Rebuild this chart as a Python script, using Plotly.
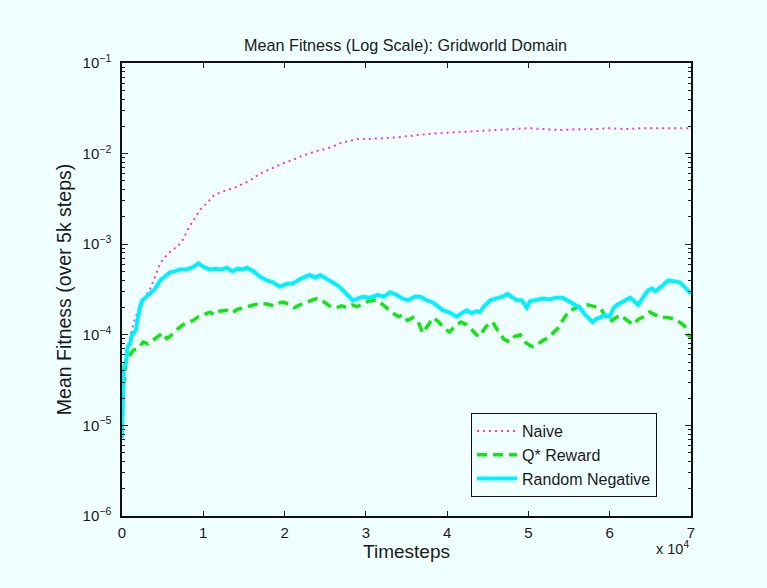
import plotly.graph_objects as go
import numpy as np

# ---------------- data (x in units of 10^4 timesteps, y as log10 of mean fitness) -------------
naive_x = [0.00, 0.03, 0.08, 0.15, 0.22, 0.28, 0.34, 0.40, 0.47, 0.55, 0.62, 0.68, 0.75, 0.82, 0.90,
           0.96, 1.04, 1.12, 1.20, 1.30, 1.40, 1.50, 1.60, 1.70, 1.80, 1.90, 2.00, 2.10, 2.20, 2.30,
           2.40, 2.50, 2.60, 2.70, 2.80, 2.90, 3.00, 3.20, 3.40, 3.60, 3.80, 4.00, 4.20, 4.40, 4.60,
           4.80, 5.00, 5.20, 5.40, 5.60, 5.80, 6.00, 6.20, 6.40, 6.60, 6.80, 7.00]
naive_log10 = [-5.10, -4.40, -4.10, -3.85, -3.68, -3.58, -3.51, -3.38, -3.21, -3.12, -3.06, -3.03, -2.95,
               -2.82, -2.70, -2.62, -2.55, -2.47, -2.43, -2.40, -2.37, -2.33, -2.28, -2.22, -2.18, -2.14,
               -2.10, -2.07, -2.03, -2.00, -1.97, -1.95, -1.92, -1.88, -1.86, -1.84, -1.84, -1.83, -1.82,
               -1.80, -1.78, -1.77, -1.76, -1.75, -1.74, -1.73, -1.72, -1.73, -1.74, -1.73, -1.73, -1.72,
               -1.73, -1.72, -1.72, -1.72, -1.72]

qstar_x = [0.00, 0.03, 0.05, 0.10, 0.14, 0.20, 0.26, 0.32, 0.38, 0.44, 0.50, 0.55, 0.59, 0.65, 0.70,
           0.75, 0.82, 0.88, 0.94, 1.00, 1.08, 1.14, 1.20, 1.29, 1.35, 1.42, 1.49, 1.56, 1.63, 1.70,
           1.78, 1.86, 1.93, 1.98, 2.05, 2.12, 2.19, 2.26, 2.33, 2.40, 2.46, 2.52, 2.58, 2.64, 2.70,
           2.77, 2.83, 2.89, 2.96, 3.03, 3.10, 3.14, 3.20, 3.27, 3.33, 3.40, 3.46, 3.51, 3.58, 3.64,
           3.70, 3.76, 3.83, 3.90, 3.96, 4.03, 4.10, 4.17, 4.24, 4.30, 4.36, 4.40, 4.46, 4.52, 4.56,
           4.62, 4.70, 4.77, 4.83, 4.90, 4.96, 5.02, 5.06, 5.12, 5.18, 5.23, 5.30, 5.35, 5.39, 5.45,
           5.51, 5.58, 5.65, 5.72, 5.80, 5.88, 5.94, 6.00, 6.06, 6.13, 6.20, 6.29, 6.35, 6.42, 6.49,
           6.56, 6.63, 6.70, 6.78, 6.86, 6.92, 6.96, 7.00]
qstar_log10 = [-4.75, -4.40, -4.28, -4.22, -4.17, -4.15, -4.08, -4.10, -4.06, -4.02, -3.98, -4.04, -4.02,
               -3.96, -3.92, -3.89, -3.86, -3.84, -3.80, -3.78, -3.75, -3.78, -3.74, -3.73, -3.76, -3.72,
               -3.70, -3.69, -3.67, -3.65, -3.66, -3.68, -3.65, -3.64, -3.66, -3.70, -3.67, -3.64, -3.62,
               -3.60, -3.62, -3.66, -3.70, -3.70, -3.68, -3.70, -3.67, -3.69, -3.66, -3.63, -3.62, -3.62,
               -3.66, -3.72, -3.76, -3.80, -3.78, -3.84, -3.81, -3.85, -3.98, -3.90, -3.81, -3.86, -3.93,
               -3.97, -3.90, -3.86, -3.89, -3.94, -4.00, -4.02, -3.93, -3.87, -3.86, -3.95, -4.05, -4.08,
               -4.02, -4.00, -4.08, -4.12, -4.13, -4.10, -4.06, -4.04, -3.98, -3.94, -3.89, -3.80, -3.73,
               -3.70, -3.68, -3.67, -3.69, -3.70, -3.78, -3.86, -3.82, -3.78, -3.83, -3.89, -3.83, -3.80,
               -3.75, -3.78, -3.81, -3.81, -3.82, -3.86, -3.90, -4.00, -4.03]

randneg_x = [0.00, 0.02, 0.05, 0.07, 0.10, 0.12, 0.17, 0.22, 0.25, 0.30, 0.34, 0.40, 0.47, 0.53, 0.59,
             0.65, 0.71, 0.80, 0.88, 0.94, 1.00, 1.08, 1.15, 1.22, 1.29, 1.36, 1.42, 1.48, 1.54, 1.62,
             1.70, 1.78, 1.86, 1.94, 2.02, 2.11, 2.20, 2.31, 2.38, 2.44, 2.52, 2.60, 2.66, 2.72, 2.78,
             2.84, 2.90, 2.96, 3.05, 3.15, 3.22, 3.30, 3.38, 3.45, 3.52, 3.60, 3.67, 3.75, 3.82, 3.88,
             3.95, 4.02, 4.08, 4.12, 4.18, 4.24, 4.30, 4.36, 4.40, 4.46, 4.53, 4.60, 4.68, 4.74, 4.80,
             4.86, 4.92, 4.98, 5.02, 5.10, 5.18, 5.26, 5.34, 5.42, 5.50, 5.56, 5.63, 5.70, 5.76, 5.79,
             5.84, 5.88, 5.94, 6.00, 6.05, 6.09, 6.15, 6.25, 6.30, 6.35, 6.40, 6.47, 6.52, 6.56, 6.62,
             6.68, 6.72, 6.80, 6.86, 6.92, 7.00]
randneg_log10 = [-5.14, -4.37, -4.30, -4.13, -4.10, -4.00, -3.95, -3.70, -3.62, -3.58, -3.54, -3.50, -3.40,
                 -3.36, -3.31, -3.30, -3.28, -3.28, -3.25, -3.21, -3.25, -3.28, -3.27, -3.28, -3.26, -3.30,
                 -3.27, -3.28, -3.26, -3.30, -3.36, -3.40, -3.42, -3.47, -3.44, -3.43, -3.38, -3.34, -3.37,
                 -3.34, -3.38, -3.43, -3.46, -3.51, -3.56, -3.62, -3.60, -3.58, -3.59, -3.56, -3.58, -3.53,
                 -3.56, -3.60, -3.62, -3.58, -3.58, -3.62, -3.64, -3.68, -3.73, -3.75, -3.78, -3.80, -3.76,
                 -3.73, -3.76, -3.74, -3.75, -3.68, -3.62, -3.60, -3.58, -3.55, -3.59, -3.62, -3.62, -3.70,
                 -3.63, -3.62, -3.60, -3.61, -3.59, -3.59, -3.63, -3.66, -3.70, -3.78, -3.84, -3.86, -3.82,
                 -3.81, -3.78, -3.80, -3.70, -3.67, -3.64, -3.59, -3.63, -3.67, -3.60, -3.51, -3.49, -3.52,
                 -3.48, -3.44, -3.40, -3.41, -3.42, -3.47, -3.55]

x_tick_vals = [0, 1, 2, 3, 4, 5, 6, 7]
x_tick_text = ["0", "1", "2", "3", "4", "5", "6", "7"]
y_tick_vals = [1e-6, 1e-5, 1e-4, 1e-3, 1e-2, 1e-1]
y_tick_text = ["10<sup>−6</sup>", "10<sup>−5</sup>", "10<sup>−4</sup>",
               "10<sup>−3</sup>", "10<sup>−2</sup>", "10<sup>−1</sup>"]
y_minor_vals = [m * 10.0 ** e for e in range(-6, -1) for m in range(2, 10)]

BG = "#f0ffff"
FONT = "Liberation Sans, Arial, Helvetica, sans-serif"

fig = go.Figure()
fig.add_trace(go.Scatter(x=naive_x, y=np.power(10.0, naive_log10), mode="lines", name="Naive",
                         line=dict(color="#ff2cf5", width=2, dash="2px,4px")))
fig.add_trace(go.Scatter(x=qstar_x, y=np.power(10.0, qstar_log10), mode="lines", name="Q* Reward",
                         line=dict(color="#11e611", width=3.5, dash="10px,6px")))
fig.add_trace(go.Scatter(x=randneg_x, y=np.power(10.0, randneg_log10), mode="lines", name="Random Negative",
                         line=dict(color="#00f2ff", width=4)))
# helper (empty) trace so the minor-tick overlay axis is drawn
fig.add_trace(go.Scatter(x=[], y=[], xaxis="x", yaxis="y2", showlegend=False, hoverinfo="skip"))

fig.update_layout(
    width=767, height=588,
    paper_bgcolor=BG, plot_bgcolor=BG,
    margin=dict(l=122, r=76, t=63, b=72),
    font=dict(family=FONT, color="#1a1a1a", size=14),
    title=dict(text="Mean Fitness (Log Scale): Gridworld Domain", x=0.5288, xanchor="center",
               y=1 - 45 / 588, yanchor="middle", font=dict(size=16.2, family=FONT, color="#1a1a1a")),
    xaxis=dict(range=[0, 7], tickvals=x_tick_vals, ticktext=x_tick_text, ticks="inside", ticklen=5,
               tickcolor="#222", showline=True, linecolor="#111", linewidth=1.5, mirror="ticks",
               showgrid=False, zeroline=False, tickfont=dict(size=15), ticklabelstandoff=2,
               title=dict(text="Timesteps", font=dict(size=19), standoff=4)),
    yaxis=dict(type="log", range=[-6, -1], tickvals=y_tick_vals, ticktext=y_tick_text,
               ticks="inside", ticklen=6, tickcolor="#222", showline=True, linecolor="#111",
               linewidth=1.5, mirror="ticks", showgrid=False, zeroline=False,
               tickfont=dict(size=15), ticklabelstandoff=6,
               title=dict(text="Mean Fitness (over 5k steps)", font=dict(size=19.5), standoff=6)),
    yaxis2=dict(type="log", range=[-6, -1], overlaying="y", side="left", tickvals=y_minor_vals,
                ticks="inside", ticklen=3, tickcolor="#222", showticklabels=False, mirror="ticks",
                showline=False, showgrid=False, zeroline=False),
    legend=dict(x=0.6134, y=0.2274, xanchor="left", yanchor="top", bgcolor=BG, bordercolor="#111",
                borderwidth=1, font=dict(size=16, family=FONT), tracegroupgap=0, itemwidth=40),
    showlegend=True,
    annotations=[dict(text="x 10<sup>4</sup>", xref="paper", yref="paper", x=1.0, y=-0.0706,
                      xanchor="right", yanchor="middle", showarrow=False, font=dict(size=14.5))],
)

fig.write_html("out.html")
